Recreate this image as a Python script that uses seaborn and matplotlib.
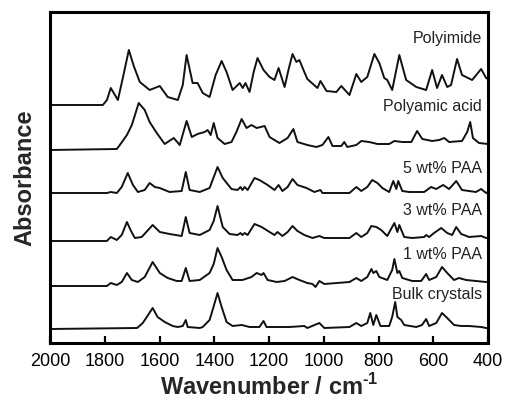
import numpy as np
import pandas as pd
import matplotlib
matplotlib.use("Agg")
import matplotlib.pyplot as plt
import seaborn as sns

# spectra: (wavenumber, absorbance above own baseline)
polyimide_wn = [2000, 1807, 1792, 1778, 1752, 1734, 1712, 1694, 1672, 1636, 1599, 1570, 1533, 1515,
                1501, 1479, 1461, 1442, 1417, 1395, 1373, 1355, 1333, 1307, 1296, 1286, 1271, 1256,
                1242, 1220, 1198, 1180, 1165, 1143, 1129, 1114, 1100, 1089, 1074, 1060, 1023, 1012,
                990, 954, 936, 906, 881, 863, 841, 815, 797, 779, 768, 750, 724, 699, 662, 626, 604,
                586, 568, 549, 535, 513, 495, 458, 425, 407, 400]
polyimide_abs = [0.0, 0.0, 0.05, 0.17, 0.05, 0.27, 0.55, 0.39, 0.23, 0.15, 0.19, 0.08, 0.05, 0.20,
                 0.50, 0.22, 0.22, 0.12, 0.08, 0.30, 0.44, 0.33, 0.15, 0.22, 0.17, 0.22, 0.13, 0.33,
                 0.47, 0.35, 0.28, 0.25, 0.37, 0.18, 0.35, 0.51, 0.43, 0.45, 0.35, 0.26, 0.17, 0.24,
                 0.14, 0.13, 0.19, 0.10, 0.31, 0.23, 0.28, 0.51, 0.42, 0.27, 0.25, 0.15, 0.50, 0.25,
                 0.18, 0.15, 0.35, 0.17, 0.30, 0.18, 0.20, 0.46, 0.30, 0.25, 0.36, 0.27, 0.26]

paa_wn = [2000, 1756, 1745, 1719, 1701, 1676, 1654, 1636, 1610, 1581, 1548, 1526, 1501, 1482, 1461,
          1435, 1424, 1413, 1402, 1388, 1362, 1337, 1319, 1300, 1282, 1264, 1245, 1216, 1198, 1162,
          1132, 1111, 1096, 1060, 1027, 1005, 983, 968, 936, 925, 914, 881, 863, 834, 804, 761, 742,
          713, 680, 659, 640, 604, 578, 560, 542, 495, 476, 465, 455, 433, 400]
paa_abs = [0.0, 0.01, 0.05, 0.15, 0.25, 0.47, 0.40, 0.28, 0.17, 0.06, 0.12, 0.05, 0.29, 0.13, 0.16,
           0.18, 0.20, 0.15, 0.27, 0.12, 0.06, 0.08, 0.18, 0.31, 0.22, 0.25, 0.22, 0.24, 0.13, 0.07,
           0.12, 0.21, 0.08, 0.05, 0.03, 0.05, 0.13, 0.04, 0.04, 0.08, 0.03, 0.05, 0.09, 0.08, 0.06,
           0.06, 0.09, 0.08, 0.08, 0.19, 0.11, 0.09, 0.10, 0.12, 0.08, 0.09, 0.18, 0.28, 0.12, 0.07, 0.06]

wt5_wn = [2000, 1792, 1778, 1756, 1738, 1716, 1697, 1679, 1654, 1636, 1617, 1599, 1563, 1519, 1504,
          1490, 1453, 1417, 1388, 1369, 1337, 1315, 1304, 1297, 1289, 1278, 1253, 1235, 1205, 1180,
          1165, 1151, 1132, 1114, 1096, 1063, 1034, 1012, 1005, 954, 906, 881, 863, 841, 823, 804,
          786, 761, 746, 735, 728, 713, 688, 633, 608, 589, 564, 542, 516, 495, 444, 425, 407, 400]
wt5_abs = [0.01, 0.01, 0.02, 0.01, 0.07, 0.21, 0.09, 0.02, 0.04, 0.11, 0.07, 0.06, 0.02, 0.03, 0.22,
           0.04, 0.02, 0.06, 0.27, 0.16, 0.05, 0.04, 0.07, 0.04, 0.07, 0.04, 0.16, 0.14, 0.09, 0.04,
           0.09, 0.03, 0.07, 0.15, 0.09, 0.06, 0.02, 0.04, 0.01, 0.01, 0.01, 0.07, 0.03, 0.07, 0.14,
           0.11, 0.06, 0.02, 0.13, 0.05, 0.13, 0.03, 0.02, 0.02, 0.07, 0.05, 0.09, 0.05, 0.13, 0.04,
           0.02, 0.05, 0.01, 0.02]

wt3_wn = [2000, 1792, 1778, 1756, 1738, 1719, 1704, 1690, 1665, 1625, 1599, 1563, 1519, 1504, 1490,
          1453, 1417, 1402, 1388, 1369, 1344, 1315, 1304, 1297, 1289, 1278, 1253, 1227, 1198, 1180,
          1169, 1151, 1132, 1114, 1096, 1071, 1041, 1016, 998, 906, 881, 863, 841, 826, 808, 790,
          768, 742, 731, 724, 706, 677, 633, 626, 615, 597, 571, 549, 531, 516, 498, 469, 425, 407, 400]
wt3_abs = [0.0, 0.0, 0.04, 0.01, 0.06, 0.19, 0.10, 0.03, 0.04, 0.16, 0.09, 0.07, 0.05, 0.24, 0.08,
           0.06, 0.11, 0.20, 0.35, 0.14, 0.07, 0.06, 0.08, 0.06, 0.08, 0.06, 0.17, 0.14, 0.09, 0.06,
           0.09, 0.05, 0.09, 0.15, 0.10, 0.06, 0.03, 0.05, 0.03, 0.03, 0.08, 0.04, 0.08, 0.15, 0.14,
           0.11, 0.05, 0.18, 0.09, 0.16, 0.04, 0.03, 0.04, 0.06, 0.04, 0.08, 0.13, 0.08, 0.06, 0.14,
           0.07, 0.04, 0.05, 0.03, 0.03]

wt1_wn = [2000, 1792, 1778, 1756, 1738, 1719, 1701, 1679, 1654, 1625, 1599, 1570, 1537, 1519, 1504,
          1490, 1453, 1417, 1402, 1388, 1373, 1355, 1333, 1297, 1264, 1245, 1227, 1220, 1205, 1172,
          1143, 1114, 1089, 1060, 1041, 1030, 1016, 998, 906, 881, 863, 841, 826, 819, 808, 797, 768,
          750, 742, 731, 724, 713, 677, 644, 626, 615, 589, 568, 549, 524, 506, 480, 444, 407, 400]
wt1_abs = [0.0, 0.0, 0.03, 0.01, 0.04, 0.13, 0.06, 0.04, 0.09, 0.24, 0.13, 0.08, 0.05, 0.05, 0.18,
           0.05, 0.06, 0.13, 0.22, 0.38, 0.29, 0.16, 0.06, 0.06, 0.09, 0.13, 0.11, 0.13, 0.06, 0.04,
           0.05, 0.09, 0.06, 0.03, 0.02, -0.01, 0.05, 0.02, 0.04, 0.08, 0.05, 0.09, 0.17, 0.13, 0.15,
           0.09, 0.06, 0.16, 0.27, 0.13, 0.15, 0.08, 0.05, 0.05, 0.12, 0.06, 0.09, 0.19, 0.13, 0.06,
           0.08, 0.06, 0.05, 0.04, 0.04]

bulk_wn = [2000, 1682, 1661, 1625, 1607, 1581, 1552, 1533, 1515, 1504, 1497, 1453, 1442, 1417, 1406,
           1388, 1373, 1355, 1333, 1300, 1271, 1235, 1220, 1209, 1125, 1071, 1060, 1016, 998, 906,
           881, 863, 841, 830, 819, 808, 793, 761, 750, 739, 731, 717, 706, 662, 641, 626, 615, 589,
           568, 549, 524, 498, 469, 425, 407, 400]
bulk_abs = [0.01, 0.02, 0.07, 0.22, 0.13, 0.08, 0.04, 0.03, 0.04, 0.10, 0.03, 0.02, 0.03, 0.10, 0.20,
            0.37, 0.23, 0.08, 0.04, 0.05, 0.03, 0.03, 0.09, 0.03, 0.03, 0.04, 0.02, 0.07, 0.02, 0.03,
            0.07, 0.04, 0.07, 0.17, 0.05, 0.15, 0.04, 0.04, 0.13, 0.28, 0.13, 0.10, 0.05, 0.03, 0.05,
            0.11, 0.04, 0.07, 0.17, 0.12, 0.05, 0.04, 0.04, 0.03, 0.02, 0.02]

names = ["Polyimide", "Polyamic acid", "5 wt% PAA", "3 wt% PAA", "1 wt% PAA", "Bulk crystals"]
series = [(polyimide_wn, polyimide_abs), (paa_wn, paa_abs), (wt5_wn, wt5_abs),
          (wt3_wn, wt3_abs), (wt1_wn, wt1_abs), (bulk_wn, bulk_abs)]

# vertical stacking of the traces and label heights (plot units)
offsets = [2.38, 1.93, 1.49, 1.02, 0.57, 0.13]
label_y = [3.005, 2.325, 1.697, 1.28, 0.837, 0.44]

frames = []
for name, (wn, ab), off in zip(names, series, offsets):
    frames.append(pd.DataFrame({"wn": wn, "A": np.array(ab) + off, "sample": name}))
df = pd.concat(frames, ignore_index=True)

sns.set_style("ticks")
plt.rcParams["font.family"] = ["Liberation Sans", "DejaVu Sans"]
# bold hyphen in the unit superscript
plt.rcParams["mathtext.fontset"] = "custom"
plt.rcParams["mathtext.rm"] = "Liberation Sans:bold"

fig = plt.figure(figsize=(5.11, 4.09), dpi=100)
ax = fig.add_axes([50 / 511, 66 / 409, 438 / 511, 331 / 409])

sns.lineplot(data=df, x="wn", y="A", units="sample", estimator=None, sort=False,
             color="#111111", linewidth=1.4, ax=ax)
for ln in ax.lines:
    ln.set_solid_joinstyle("round")

for name, y in zip(names, label_y):
    ax.text(422, y, name, ha="right", va="baseline", fontsize=11.5, color="#222222")

ax.set_xlim(2000, 400)
ax.set_ylim(0, 3.31)
ax.set_xticks([2000, 1800, 1600, 1400, 1200, 1000, 800, 600, 400])
ax.set_yticks([])
ax.tick_params(axis="x", direction="in", length=5, width=1.6, labelsize=13, pad=7,
               colors="black")
for s in ax.spines.values():
    s.set_linewidth(2.2)
    s.set_color("black")
    s.set_visible(True)
ax.set_xlabel("Wavenumber / cm$^{\\text{-1}}$", fontsize=17, fontweight="bold", labelpad=3)
ax.set_ylabel("Absorbance", fontsize=17, fontweight="bold", labelpad=10)

fig.savefig("out.png", dpi=100)
